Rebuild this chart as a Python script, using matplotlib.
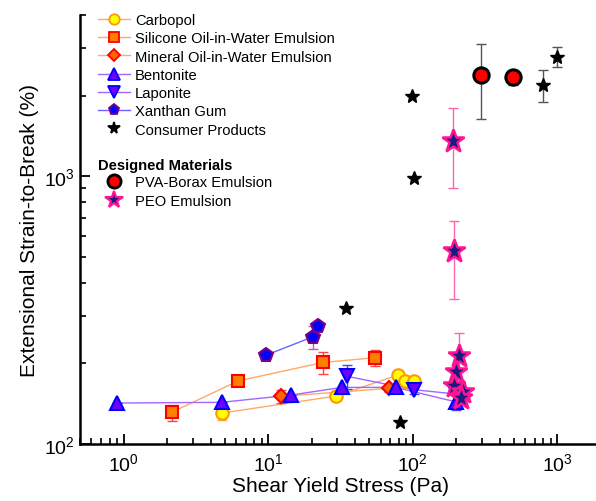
import matplotlib
matplotlib.use("Agg")
import matplotlib.pyplot as plt
from matplotlib.lines import Line2D
import numpy as np

plt.rcParams['font.family'] = ['Liberation Sans', 'DejaVu Sans']
plt.rcParams['mathtext.fontset'] = 'custom'
plt.rcParams['mathtext.rm'] = 'Liberation Sans'
plt.rcParams['mathtext.it'] = 'Liberation Sans:italic'
plt.rcParams['mathtext.bf'] = 'Liberation Sans:bold'
plt.rcParams['mathtext.default'] = 'regular'

# ---- data ----
carbopol_x = [4.78, 29.4, 78.9, 88.2, 101.8]
carbopol_y = [130.5, 151, 181, 172, 172]
carbopol_err = [8, 0, 8, 0, 0]

silicone_x = [2.15, 6.2, 24.0, 54.7]
silicone_y = [131.3, 172, 201.7, 210]
silicone_err = [9, 6, 19, 15]

mineral_x = [12.3, 68.4]
mineral_y = [150.6, 161.4]
mineral_err = [8, 5]

bentonite_x = [0.903, 4.76, 14.4, 32.2, 76.0, 200.3]
bentonite_y = [142.2, 143.1, 152.3, 162.7, 162.7, 143.5]
bentonite_err = [0, 0, 0, 0, 5, 10]

laponite_x = [35.2, 101.8, 198.6]
laponite_y = [178.9, 159.5, 153.7]
laponite_err = [18, 6, 0]

xanthan_x = [9.69, 20.4, 22.1]
xanthan_y = [214.8, 251.4, 274.9]
xanthan_err = [0, 25, 0]

consumer_x = [34.6, 81.4, 99.0, 101.8, 797, 997]
consumer_y = [320.9, 120.5, 1994, 989, 2191, 2797]
consumer_err = [0, 0, 0, 0, 300, 230]

pva_x = [297, 492]
pva_y = [2382, 2341]
pva_err = [745, 145]

peo_x = [188.4, 192, 208, 200, 192, 224, 217]
peo_y = [1354, 525, 213.6, 185, 165, 157, 149]
peo_err_lo = [454, 177, 47, 0, 0, 0, 0]
peo_err_hi = [450, 154, 47, 0, 0, 0, 0]

x_ticks = [1, 10, 100, 1000]

# ---- figure ----
fig = plt.figure(figsize=(5.96, 5.02), dpi=100)
ax = fig.add_axes([80/596, 57/502, 521/596, 429/502])
ax.set_xscale('log')
ax.set_yscale('log')
ax.set_xlim(0.5, 2000)
ax.set_ylim(100, 4000)

orange_line = '#FFAA66'
purple_line = '#A366FF'
blue_line = '#6666FF'

def series(x, y, err, marker, ms, fc, ec, lc, errc, z=3, lw=1.0):
    ax.plot(x, y, '-', color=lc, lw=lw, zorder=2)
    e = np.array(err, dtype=float)
    ax.errorbar(x, y, yerr=e, fmt='none', ecolor=errc, elinewidth=1.0,
                capsize=3.5, capthick=1.0, zorder=2.5)
    ax.plot(x, y, linestyle='none', marker=marker, ms=ms, mfc=fc, mec=ec,
            mew=1.5, zorder=z)

series(carbopol_x, carbopol_y, carbopol_err, 'o', 9, '#FFFF00', '#FF9900',
       orange_line, '#FFAA55')
series(silicone_x, silicone_y, silicone_err, 's', 8, '#FF7F00', '#FF0000',
       orange_line, '#FF4444')
series(mineral_x, mineral_y, mineral_err, 'D', 7.5, '#FF6600', '#FF0000',
       orange_line, '#FF4444')
series(bentonite_x, bentonite_y, bentonite_err, '^', 10, '#7000FF', '#0000FF',
       purple_line, '#4444FF')
series(laponite_x, laponite_y, laponite_err, 'v', 10, '#7000FF', '#0000FF',
       purple_line, '#4444FF')
series(xanthan_x, xanthan_y, xanthan_err, 'p', 10, '#0000FF', '#800080',
       blue_line, '#B060B0')

ax.errorbar(consumer_x, consumer_y, yerr=consumer_err, fmt='none',
            ecolor='#555555', elinewidth=1.0, capsize=3.5, zorder=2.5)
ax.plot(consumer_x, consumer_y, linestyle='none', marker='*', ms=10,
        mfc='black', mec='black', zorder=3)

ax.errorbar(pva_x, pva_y, yerr=pva_err, fmt='none', ecolor='#555555',
            elinewidth=1.0, capsize=3.5, zorder=2.5)
ax.plot(pva_x, pva_y, linestyle='none', marker='o', ms=11, mfc='#FF0000',
        mec='black', mew=2.2, zorder=3)

ax.errorbar(peo_x, peo_y, yerr=[peo_err_lo, peo_err_hi], fmt='none',
            ecolor='#FF66AA', elinewidth=1.0, capsize=3.5, zorder=2.5)
ax.plot(peo_x, peo_y, linestyle='none', marker='*', ms=17, mfc='#1A1A80',
        mec='#FF1493', mew=1.8, zorder=4)

# ---- axes styling ----
for s in ['top', 'right']:
    ax.spines[s].set_visible(False)
for s in ['left', 'bottom']:
    ax.spines[s].set_linewidth(1.8)
ax.tick_params(which='major', direction='in', length=7, width=1.3,
               labelsize=14)
ax.tick_params(which='minor', direction='in', length=4, width=1.2)
ax.set_xticks(x_ticks)
ax.tick_params(axis='x', pad=6)
ax.set_xlabel('Shear Yield Stress (Pa)', fontsize=15, labelpad=1)
ax.set_ylabel('Extensional Strain-to-Break (%)', fontsize=15, labelpad=4)

# ---- legends ----
FS = 10.6
def h(marker, ms, fc, ec, lc, mew=1.3):
    return Line2D([], [], color=lc, lw=1.0, marker=marker, ms=ms, mfc=fc,
                  mec=ec, mew=mew)

handles1 = [
    h('o', 7.5, '#FFFF00', '#FF9900', orange_line),
    h('s', 6.5, '#FF7F00', '#FF0000', orange_line),
    h('D', 6.5, '#FF6600', '#FF0000', orange_line),
    h('^', 8, '#7000FF', '#0000FF', purple_line),
    h('v', 8, '#7000FF', '#0000FF', purple_line),
    h('p', 8, '#0000FF', '#800080', blue_line),
    h('*', 8.5, 'black', 'black', 'none'),
]
labels1 = ['Carbopol', 'Silicone Oil-in-Water Emulsion',
           'Mineral Oil-in-Water Emulsion', 'Bentonite', 'Laponite',
           'Xanthan Gum', 'Consumer Products']
leg1 = ax.legend(handles1, labels1, loc='upper left',
                 bbox_to_anchor=(98/596, 1 - 14/502),
                 bbox_transform=fig.transFigure, frameon=False, fontsize=FS,
                 handlelength=2.17, handletextpad=0.34, labelspacing=0.29,
                 borderpad=0, borderaxespad=0)
ax.add_artist(leg1)

fig.text(98/596, 1 - 166/502, 'Designed Materials', fontsize=FS,
         fontweight='bold', va='center', ha='left')

handles2 = [
    h('o', 9.5, '#FF0000', 'black', 'none', mew=2.0),
    h('*', 13, '#1A1A80', '#FF1493', 'none', mew=1.6),
]
labels2 = ['PVA-Borax Emulsion', 'PEO Emulsion']
leg2 = ax.legend(handles2, labels2, loc='upper left',
                 bbox_to_anchor=(98/596, 1 - 176/502),
                 bbox_transform=fig.transFigure, frameon=False, fontsize=FS,
                 handlelength=2.17, handletextpad=0.34, labelspacing=0.35,
                 borderpad=0, borderaxespad=0)

fig.savefig('out.png', dpi=100)
